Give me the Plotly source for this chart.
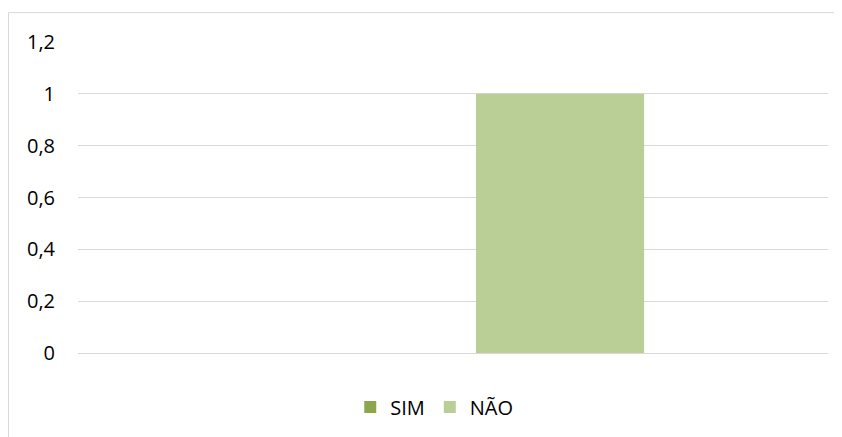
import plotly.graph_objects as go

categories = [""]
series_names = ["SIM", "NÃO"]
sim_values = [0]
nao_values = [1]
tick_values = [0, 0.2, 0.4, 0.6, 0.8, 1, 1.2]

# page body has an 8px margin, so the figure is drawn from (8, 8)
W, H = 834, 429
L, R, T, B = 70, 14, 33, 83
pw, ph = W - L - R, H - T - B
y_top = 1.2 * ph / (ph - 1)

fig = go.Figure()
fig.add_trace(go.Bar(name=series_names[0], x=categories, y=sim_values,
                     marker=dict(color="#8aa74e", line=dict(width=0))))
fig.add_trace(go.Bar(name=series_names[1], x=categories, y=nao_values,
                     marker=dict(color="#b9cf96", line=dict(width=0))))

fig.update_layout(
    width=W, height=H,
    margin=dict(l=L, r=R, t=T, b=B),
    paper_bgcolor="white", plot_bgcolor="white",
    barmode="group", bargap=0.429, bargroupgap=0.215,
    separators=", ",
    font=dict(family="'Open Sans', sans-serif", size=20, color="#000000"),
    showlegend=True,
    legend=dict(orientation="h", x=0.475, xanchor="center", y=-0.169, yanchor="middle",
                font=dict(size=20), itemwidth=30, traceorder="normal"),
    xaxis=dict(showticklabels=False, showgrid=False, zeroline=False, showline=False,
               range=[-0.5, 0.5]),
    yaxis=dict(range=[0, y_top], tickvals=tick_values, showgrid=True, gridcolor="#d9d9d9",
               gridwidth=1, zeroline=True, zerolinecolor="#d9d9d9", zerolinewidth=1,
               showline=False, ticks="", ticklabelstandoff=22),
    shapes=[dict(type="rect", xref="paper", yref="paper",
                 x0=(0.5 - L) / pw, x1=(W + 20 - L) / pw,
                 y0=(H - B - (H + 20)) / ph, y1=(H - B - 4.5) / ph,
                 line=dict(color="#d9d9d9", width=1), fillcolor="rgba(0,0,0,0)", layer="below")],
)

fig.write_html("out.html")
